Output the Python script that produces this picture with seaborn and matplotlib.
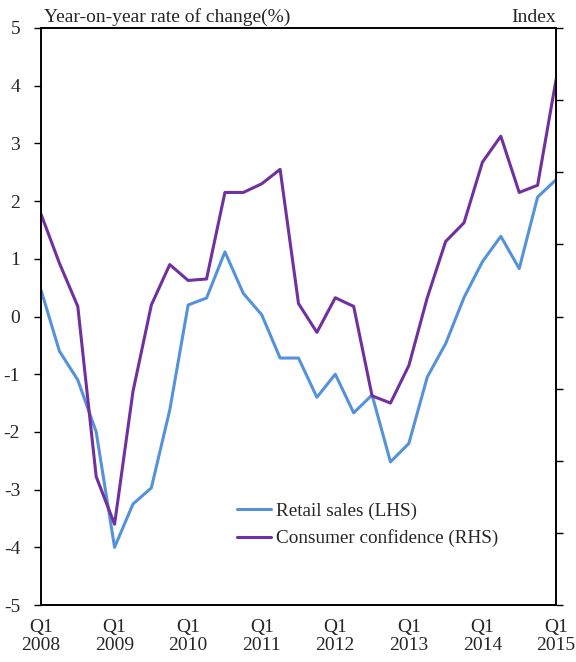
import numpy as np
import pandas as pd
import matplotlib
matplotlib.use("Agg")
import matplotlib.pyplot as plt
import seaborn as sns
from matplotlib.lines import Line2D

sns.set_style("white")
plt.rcParams.update({
    'font.family': ['Liberation Serif', 'DejaVu Serif'],
    'font.size': 14,
    'axes.unicode_minus': False,
})

# Quarterly data, Q1 2008 .. Q1 2015
quarters = list(range(29))
years = ['2008', '2009', '2010', '2011', '2012', '2013', '2014', '2015']

retail_sales = [0.46, -0.6, -1.1, -2.0, -4.0, -3.25, -2.97, -1.62,
                0.2, 0.32, 1.12, 0.4, 0.03, -0.72, -0.72, -1.4,
                -1.0, -1.67, -1.36, -2.52, -2.2, -1.05, -0.47, 0.33,
                0.95, 1.39, 0.83, 2.07, 2.37]

consumer_conf = [-12.9, -16.3, -19.3, -31.1, -34.4, -25.2, -19.2, -16.4,
                 -17.5, -17.4, -11.4, -11.4, -10.8, -9.8, -19.1, -21.1,
                 -18.7, -19.3, -25.5, -26.0, -23.4, -18.7, -14.8, -13.5,
                 -9.3, -7.5, -11.4, -10.9, -3.6]

blue = '#5592dc'
purple = '#7030a0'

df = pd.DataFrame({'q': quarters, 'retail': retail_sales, 'conf': consumer_conf})

fig = plt.figure(figsize=(5.76, 6.62), dpi=100)
ax = fig.add_axes([41 / 576, 1 - 605 / 662, 515 / 576, 577 / 662])
ax2 = ax.twinx()

sns.lineplot(data=df, x='q', y='retail', ax=ax, color=blue, linewidth=2.2)
sns.lineplot(data=df, x='q', y='conf', ax=ax2, color=purple, linewidth=2.2)

ax.set_xlim(0, 28)
ax.set_ylim(-5, 5)
ax.set_yticks(range(-5, 6))
ax.set_xticks(range(0, 29, 4))
ax.set_xticklabels(['Q1\n' + y for y in years], linespacing=1.05)
ax.set_xlabel('')
ax.set_ylabel('')

ax2.set_ylim(-40, 0)
ax2.set_yticks(range(-40, 1, 5))
ax2.set_ylabel('')

for a in (ax, ax2):
    for s in a.spines.values():
        s.set_color('black')
        s.set_linewidth(1.2)
    a.tick_params(direction='out', length=5, width=1, color='black', labelsize=14)
ax.tick_params(axis='y', pad=10)
ax.tick_params(axis='x', pad=5)
ax2.tick_params(axis='y', pad=9)

fig.text(44 / 576, 1 - 22 / 662, 'Year-on-year rate of change(%)', fontsize=14, va='baseline')
fig.text(556 / 576, 1 - 22 / 662, 'Index', fontsize=14, va='baseline', ha='right')

handles = [Line2D([], [], color=blue, linewidth=2.2),
           Line2D([], [], color=purple, linewidth=2.2)]
ax.legend(handles, ['Retail sales (LHS)', 'Consumer confidence (RHS)'],
          loc='center left', bbox_to_anchor=(0.347, 0.139), frameon=False,
          handlelength=1.8, handletextpad=0.25, labelspacing=0.5, fontsize=13.8)

fig.savefig('out.png', dpi=100)
